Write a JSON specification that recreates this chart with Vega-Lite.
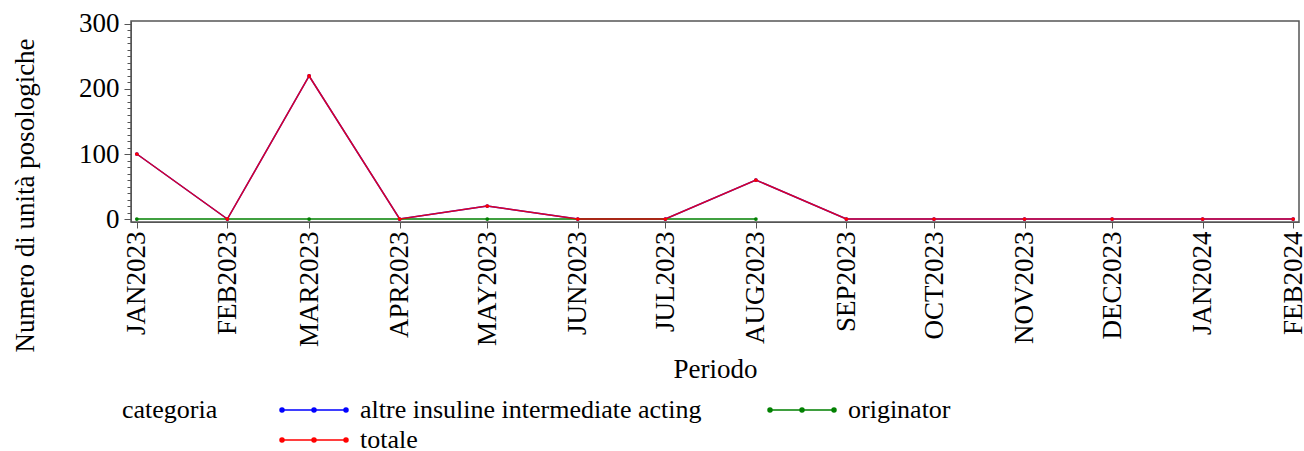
{
  "$schema": "https://vega.github.io/schema/vega-lite/v6.json",
  "autosize": "none",
  "width": 1168,
  "height": 201,
  "padding": {"left": 131, "top": 21, "right": 5, "bottom": 229},
  "background": "white",
  "config": {
    "font": "Liberation Serif",
    "view": {"stroke": "#555555", "strokeWidth": 1.5},
    "axis": {"grid": false, "domainColor": "#555555", "tickColor": "#555555", "labelColor": "black", "titleColor": "black", "labelFont": "Liberation Serif", "titleFont": "Liberation Serif", "titleFontWeight": "normal"},
    "legend": {"labelFont": "Liberation Serif", "titleFont": "Liberation Serif", "labelFontSize": 26, "titleFontSize": 26, "titleFontWeight": "normal", "labelColor": "black", "titleColor": "black"}
  },
  "data": {"values": [
    {"periodo": "2023-01-01", "categoria": "altre insuline intermediate acting", "valore": 100},
    {"periodo": "2023-02-01", "categoria": "altre insuline intermediate acting", "valore": 0},
    {"periodo": "2023-03-01", "categoria": "altre insuline intermediate acting", "valore": 220},
    {"periodo": "2023-04-01", "categoria": "altre insuline intermediate acting", "valore": 0},
    {"periodo": "2023-05-01", "categoria": "altre insuline intermediate acting", "valore": 20},
    {"periodo": "2023-06-01", "categoria": "altre insuline intermediate acting", "valore": 0},
    {"periodo": "2023-07-01", "categoria": "altre insuline intermediate acting", "valore": 0},
    {"periodo": "2023-08-01", "categoria": "altre insuline intermediate acting", "valore": 60},
    {"periodo": "2023-09-01", "categoria": "altre insuline intermediate acting", "valore": 0},
    {"periodo": "2023-10-01", "categoria": "altre insuline intermediate acting", "valore": 0},
    {"periodo": "2023-11-01", "categoria": "altre insuline intermediate acting", "valore": 0},
    {"periodo": "2023-12-01", "categoria": "altre insuline intermediate acting", "valore": 0},
    {"periodo": "2024-01-01", "categoria": "altre insuline intermediate acting", "valore": 0},
    {"periodo": "2024-02-01", "categoria": "altre insuline intermediate acting", "valore": 0},
    {"periodo": "2023-01-01", "categoria": "originator", "valore": 0},
    {"periodo": "2023-03-01", "categoria": "originator", "valore": 0},
    {"periodo": "2023-05-01", "categoria": "originator", "valore": 0},
    {"periodo": "2023-08-01", "categoria": "originator", "valore": 0},
    {"periodo": "2023-01-01", "categoria": "totale", "valore": 100},
    {"periodo": "2023-02-01", "categoria": "totale", "valore": 0},
    {"periodo": "2023-03-01", "categoria": "totale", "valore": 220},
    {"periodo": "2023-04-01", "categoria": "totale", "valore": 0},
    {"periodo": "2023-05-01", "categoria": "totale", "valore": 20},
    {"periodo": "2023-06-01", "categoria": "totale", "valore": 0},
    {"periodo": "2023-07-01", "categoria": "totale", "valore": 0},
    {"periodo": "2023-08-01", "categoria": "totale", "valore": 60},
    {"periodo": "2023-09-01", "categoria": "totale", "valore": 0},
    {"periodo": "2023-10-01", "categoria": "totale", "valore": 0},
    {"periodo": "2023-11-01", "categoria": "totale", "valore": 0},
    {"periodo": "2023-12-01", "categoria": "totale", "valore": 0},
    {"periodo": "2024-01-01", "categoria": "totale", "valore": 0},
    {"periodo": "2024-02-01", "categoria": "totale", "valore": 0}
  ]},
  "encoding": {
    "x": {
      "field": "periodo", "type": "temporal",
      "scale": {"type": "utc", "domain": [{"year": 2022, "month": 12, "date": 30, "utc": true}, {"year": 2024, "month": 2, "date": 3, "utc": true}], "nice": false},
      "axis": {
        "title": "Periodo", "titleFontSize": 27, "titleY": 147, "titleBaseline": "middle",
        "values": [
          {"year": 2023, "month": 1, "date": 1, "utc": true},
          {"year": 2023, "month": 2, "date": 1, "utc": true},
          {"year": 2023, "month": 3, "date": 1, "utc": true},
          {"year": 2023, "month": 4, "date": 1, "utc": true},
          {"year": 2023, "month": 5, "date": 1, "utc": true},
          {"year": 2023, "month": 6, "date": 1, "utc": true},
          {"year": 2023, "month": 7, "date": 1, "utc": true},
          {"year": 2023, "month": 8, "date": 1, "utc": true},
          {"year": 2023, "month": 9, "date": 1, "utc": true},
          {"year": 2023, "month": 10, "date": 1, "utc": true},
          {"year": 2023, "month": 11, "date": 1, "utc": true},
          {"year": 2023, "month": 12, "date": 1, "utc": true},
          {"year": 2024, "month": 1, "date": 1, "utc": true},
          {"year": 2024, "month": 2, "date": 1, "utc": true}
        ],
        "labelExpr": "upper(utcFormat(datum.value, '%b%Y'))",
        "labelAngle": -90, "labelAlign": "right", "labelBaseline": "middle",
        "labelFontSize": 27, "labelPadding": 3, "tickSize": 6, "labelOverlap": false, "labelFlush": false, "labelBound": false
      }
    },
    "y": {
      "field": "valore", "type": "quantitative",
      "scale": {"domain": [-4.6, 304.6], "nice": false, "zero": false},
      "axis": {
        "title": "Numero di unità posologiche",
        "values": [0, 10, 20, 30, 40, 50, 60, 70, 80, 90, 100, 110, 120, 130, 140, 150, 160, 170, 180, 190, 200, 210, 220, 230, 240, 250, 260, 270, 280, 290, 300],
        "labelExpr": "datum.value % 100 === 0 ? datum.label : ''",
        "tickSize": {"condition": {"test": "datum.value % 100 === 0", "value": 7}, "value": 4},
        "labelOverlap": false, "labelFontSize": 27, "labelPadding": 5,
        "titleFontSize": 27, "titleAngle": -90, "titleX": -106, "titleY": 174, "titleAlign": "center", "titleBaseline": "middle"
      }
    },
    "color": {
      "field": "categoria", "type": "nominal",
      "scale": {"domain": ["altre insuline intermediate acting", "originator", "totale"], "range": ["#0000ff", "#008000", "#ff0000"]},
      "legend": {
        "title": "categoria", "orient": "none", "legendX": -9, "legendY": 376,
        "direction": "horizontal", "columns": 2, "titleOrient": "left", "titleAnchor": "start", "titleBaseline": "top",
        "titleFontSize": 26, "titleFontWeight": "normal", "titleFont": "Liberation Serif", "titleColor": "black", "titlePadding": 56,
        "labelFontSize": 26, "labelFont": "Liberation Serif", "labelColor": "black", "labelOffset": 60, "labelLimit": 0,
        "symbolType": "M-1,0H11.8M-1.4,0a0.4,0.4 0 1,0 0.8,0a0.4,0.4 0 1,0 -0.8,0M5,0a0.4,0.4 0 1,0 0.8,0a0.4,0.4 0 1,0 -0.8,0M11.4,0a0.4,0.4 0 1,0 0.8,0a0.4,0.4 0 1,0 -0.8,0",
        "symbolSize": 100, "symbolStrokeWidth": 1.5, "columnPadding": 60, "rowPadding": 4,
        "encode": {
          "symbols": {"update": {"fill": {"scale": "color", "field": "value"}, "stroke": {"scale": "color", "field": "value"}, "opacity": {"value": 1}}},
          "labels": {"update": {"font": {"value": "Liberation Serif"}, "fontSize": {"value": 26}}},
          "title": {"update": {"font": {"value": "Liberation Serif"}, "fontSize": {"value": 26}}}
        }
      }
    }
  },
  "layer": [
    {
      "transform": [{"filter": "datum.categoria === 'altre insuline intermediate acting'"}],
      "mark": {"type": "line", "strokeWidth": 1.5}
    },
    {
      "transform": [{"filter": "datum.categoria === 'altre insuline intermediate acting'"}],
      "mark": {"type": "point", "filled": true, "size": 14, "opacity": 1}
    },
    {
      "transform": [{"filter": "datum.categoria === 'originator'"}],
      "mark": {"type": "line", "strokeWidth": 1.5}
    },
    {
      "transform": [{"filter": "datum.categoria === 'originator'"}],
      "mark": {"type": "point", "filled": true, "size": 14, "opacity": 1}
    },
    {
      "transform": [{"filter": "datum.categoria === 'totale'"}],
      "mark": {"type": "line", "strokeWidth": 1.5, "opacity": 0.85}
    },
    {
      "transform": [{"filter": "datum.categoria === 'totale'"}],
      "mark": {"type": "point", "filled": true, "size": 14, "opacity": 1}
    }
  ]
}
